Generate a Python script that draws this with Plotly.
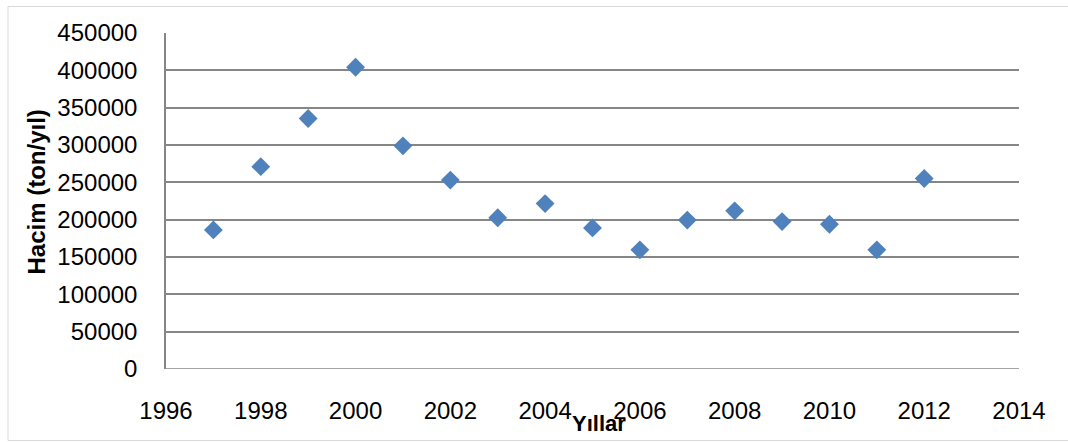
import plotly.graph_objects as go

years = [1997, 1998, 1999, 2000, 2001, 2002, 2003, 2004, 2005, 2006, 2007, 2008, 2009, 2010, 2011, 2012]
volume = [186300, 271000, 335500, 404200, 298900, 253000, 202500, 221500, 189000, 159600, 199400, 211800, 197400, 193900, 159600, 255200]
x_ticks = [1996, 1998, 2000, 2002, 2004, 2006, 2008, 2010, 2012, 2014]
y_ticks = [0, 50000, 100000, 150000, 200000, 250000, 300000, 350000, 400000, 450000]

W, H = 1068, 442
ML, MR, MT, MB = 166, 49, 33, 73
pw, ph = W - ML - MR, H - MT - MB

def px_x(p):
    return (p - ML) / pw

def px_y(p):
    return (H - MB - p) / ph

FONT = "Liberation Sans, Arial, sans-serif"
GRID = "#868686"

fig = go.Figure()
fig.add_trace(go.Scatter(
    x=years, y=volume, mode="markers",
    marker=dict(symbol="diamond", size=14.5, color="#4F81BD", line=dict(width=0)),
    showlegend=False,
))

fig.update_layout(
    width=W, height=H,
    margin=dict(l=ML, r=MR, t=MT, b=MB),
    paper_bgcolor="white", plot_bgcolor="white",
    font=dict(family=FONT, size=24, color="black"),
    xaxis=dict(
        range=[1996, 2014], tickvals=x_ticks, ticktext=[str(v) for v in x_ticks],
        showgrid=False, zeroline=False, showline=False,
        ticks="", ticklabelstandoff=25, tickfont=dict(size=24),
        fixedrange=True,
    ),
    yaxis=dict(
        range=[0, 450000], tickvals=y_ticks, ticktext=[str(v) for v in y_ticks],
        showgrid=True, gridcolor=GRID, gridwidth=1.5,
        zeroline=False, showline=True, linecolor=GRID, linewidth=1.5,
        ticks="", ticklabelstandoff=22, tickfont=dict(size=24),
        fixedrange=True,
    ),
    shapes=[
        dict(type="line", xref="paper", yref="y", x0=0, x1=1, y0=0, y1=0,
             line=dict(color=GRID, width=1.5)),
        dict(type="rect", xref="paper", yref="paper",
             x0=px_x(8), x1=px_x(1075), y0=px_y(440.5), y1=px_y(6.5),
             line=dict(color="#D9D9D9", width=1), layer="below"),
    ],
    annotations=[
        dict(text="<b>Hacim (ton/yıl)</b>", xref="paper", yref="paper",
             x=px_x(36), y=px_y(192.5), textangle=-90, showarrow=False,
             xanchor="center", yanchor="middle", font=dict(size=24, family=FONT)),
        dict(text="<b>Yıllar</b>", xref="paper", yref="paper",
             x=px_x(599), y=px_y(423), showarrow=False,
             xanchor="center", yanchor="middle", font=dict(size=22, family=FONT)),
    ],
)

fig.write_html("out.html")
